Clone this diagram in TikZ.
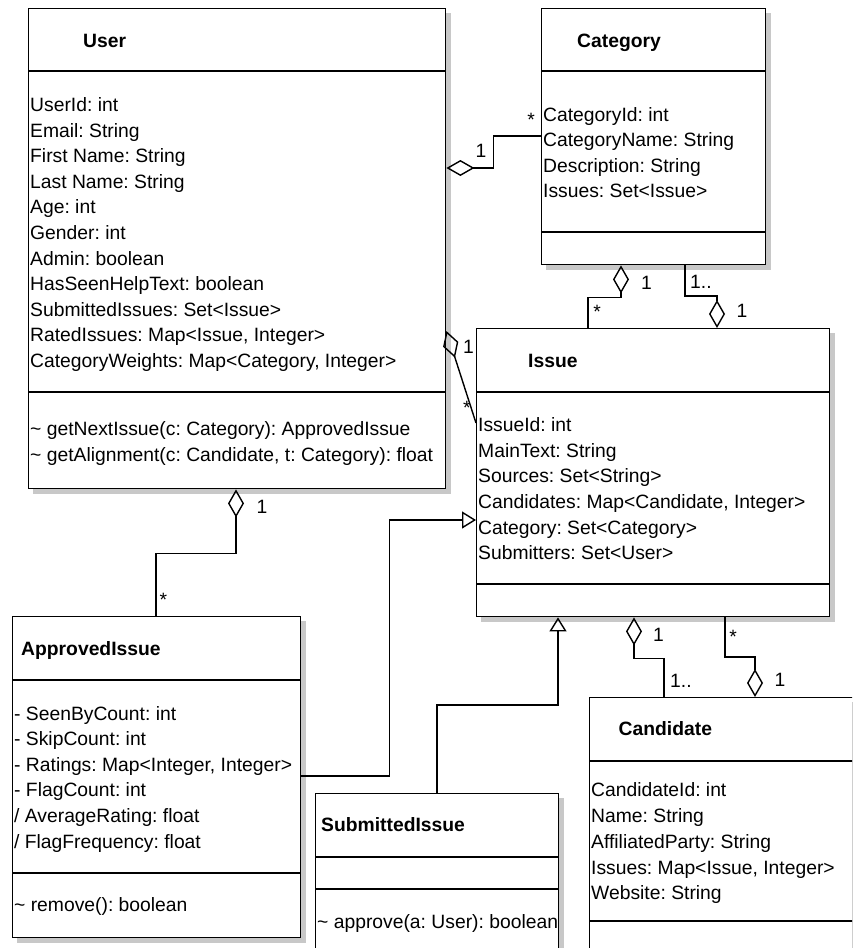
\documentclass[tikz,border=0pt]{standalone}
\usepackage{fontspec}
\setmainfont{Liberation Sans}
\usepackage{tikz}
\usetikzlibrary{arrows.meta,backgrounds}
\definecolor{ink}{HTML}{000000}
\definecolor{shade}{HTML}{C8C8C8}
\newcommand\umlfont{\fontsize{19.3}{23}\selectfont\frenchspacing}

\begin{document}
\begin{tikzpicture}[
  x=1pt,
  y=-1pt,
  classbox/.style={
    rectangle,anchor=north west,inner sep=0pt,draw=ink,fill=white,line width=1.4pt
  },
  boxshadow/.style={fill=shade},
  divider/.style={draw=ink,line width=1.4pt},
  classname/.style={anchor=base west,inner sep=0pt,text=ink,font=\umlfont\bfseries},
  member/.style={anchor=base west,inner sep=0pt,text=ink,font=\umlfont},
  mult/.style={anchor=base,inner sep=0pt,text=ink,font=\umlfont},
  assoc/.style={draw=ink,line width=1.4pt},
  aggr/.style={assoc,{Diamond[open,length=28pt,width=16pt]}-},
  generalize/.style={assoc,-{Triangle[open,length=14pt,width=17pt]}}
]
  \useasboundingbox (0,0) rectangle (852,948);
  \clip (0,0) rectangle (852,948);

  % User
  \node[classbox,minimum width=417pt,minimum height=480pt] (user) at (28,8) {};
  \draw[divider] ([yshift=-63pt]user.north west) -- ([yshift=-63pt]user.north east);
  \draw[divider] ([yshift=-384pt]user.north west) -- ([yshift=-384pt]user.north east);
  \node[classname] (user-name) at (83,47) {User};
  \foreach \txt [count=\i from 0] in {UserId: int, Email: String, First Name: String,
      Last Name: String, Age: int, Gender: int, Admin: boolean, HasSeenHelpText: boolean,
      SubmittedIssues: Set<Issue>, {RatedIssues: Map<Issue, Integer>},
      {CategoryWeights: Map<Category, Integer>}}
    \node[member] (user-a\i) at (30,111.5+25.6*\i) {\txt};
  \node[member] (user-m0) at (30,435) {\textasciitilde{} getNextIssue(c: Category): ApprovedIssue};
  \node[member] (user-m1) at (30,461) {\textasciitilde{} getAlignment(c: Candidate, t: Category): float};

  % Category
  \node[classbox,minimum width=224pt,minimum height=256pt] (category) at (541,8) {};
  \draw[divider] ([yshift=-63pt]category.north west) -- ([yshift=-63pt]category.north east);
  \draw[divider] ([yshift=-224pt]category.north west) -- ([yshift=-224pt]category.north east);
  \node[classname] (category-name) at (577,47) {Category};
  \foreach \txt [count=\i from 0] in {CategoryId: int, CategoryName: String,
      Description: String, Issues: Set<Issue>}
    \node[member] (category-a\i) at (543,121+25.6*\i) {\txt};

  % Issue
  \node[classbox,minimum width=353pt,minimum height=288pt] (issue) at (476,328) {};
  \draw[divider] ([yshift=-64pt]issue.north west) -- ([yshift=-64pt]issue.north east);
  \draw[divider] ([yshift=-256pt]issue.north west) -- ([yshift=-256pt]issue.north east);
  \node[classname] (issue-name) at (528,367.7) {Issue};
  \foreach \txt [count=\i from 0] in {IssueId: int, MainText: String, Sources: Set<String>,
      {Candidates: Map<Candidate, Integer>}, Category: Set<Category>, Submitters: Set<User>}
    \node[member] (issue-a\i) at (478,431.7+25.6*\i) {\txt};

  % ApprovedIssue
  \node[classbox,minimum width=288pt,minimum height=321pt] (approved) at (12,616) {};
  \draw[divider] ([yshift=-64pt]approved.north west) -- ([yshift=-64pt]approved.north east);
  \draw[divider] ([yshift=-257pt]approved.north west) -- ([yshift=-257pt]approved.north east);
  \node[classname] (approved-name) at (21,655) {ApprovedIssue};
  \foreach \txt [count=\i from 0] in {- SeenByCount: int, - SkipCount: int,
      {- Ratings: Map<Integer, Integer>}, - FlagCount: int, / AverageRating: float,
      / FlagFrequency: float}
    \node[member] (approved-a\i) at (14,720+25.6*\i) {\txt};
  \node[member] (approved-m0) at (14,911.7) {\textasciitilde{} remove(): boolean};

  % SubmittedIssue
  \node[classbox,minimum width=243pt,minimum height=160pt] (submitted) at (315,793) {};
  \draw[divider] ([yshift=-64pt]submitted.north west) -- ([yshift=-64pt]submitted.north east);
  \draw[divider] ([yshift=-96pt]submitted.north west) -- ([yshift=-96pt]submitted.north east);
  \node[classname] (submitted-name) at (321,831.7) {SubmittedIssue};
  \node[member] (submitted-m0) at (317,928) {\textasciitilde{} approve(a: User): boolean};

  % Candidate
  \node[classbox,minimum width=290pt,minimum height=256pt] (candidate) at (589,697) {};
  \draw[divider] ([yshift=-64pt]candidate.north west) -- ([yshift=-64pt]candidate.north east);
  \draw[divider] ([yshift=-224pt]candidate.north west) -- ([yshift=-224pt]candidate.north east);
  \node[classname] (candidate-name) at (618.5,735) {Candidate};
  \foreach \txt [count=\i from 0] in {CandidateId: int, Name: String, AffiliatedParty: String,
      {Issues: Map<Issue, Integer>}, Website: String}
    \node[member] (candidate-a\i) at (591,796.7+25.8*\i) {\txt};

  % Shadows
  \begin{scope}[on background layer]
    \foreach \cls in {user,category,issue,approved,submitted,candidate}
      \fill[boxshadow] ([shift={(5pt,-5pt)}]\cls.north west) rectangle ([shift={(5pt,-5pt)}]\cls.south east);
  \end{scope}

  % Associations
  \draw[aggr] ([yshift=-160pt]user.north east) -- ++(47,0) |- ([yshift=-128pt]category.north west);
  \draw[aggr] ([xshift=80pt]category.south west) -- ++(0,32) -| ([xshift=112pt]issue.north west);
  \draw[aggr] ([xshift=241pt]issue.north west) -- ++(0,-32) -| ([xshift=144pt]category.south west);
  \draw[aggr] ([yshift=-323pt]user.north east) -- ([yshift=-95pt]issue.north west);
  \draw[aggr] ([xshift=208pt]user.south west) -- ++(0,64) -| ([xshift=144pt]approved.north west);
  \draw[aggr] ([xshift=158pt]issue.south west) -- ++(0,41) -| ([xshift=75pt]candidate.north west);
  \draw[aggr] ([xshift=166pt]candidate.north west) -- ++(0,-40) -| ([xshift=249pt]issue.south west);
  \draw[generalize] ([yshift=-160pt]approved.north east) -- ++(88,0) |- ([yshift=-192pt]issue.north west);
  \draw[generalize] ([xshift=122pt]submitted.north west) -- ++(0,-88) -| ([xshift=82pt]issue.south west);

  % Multiplicities
  \node[mult] (uc-one) at (481,157) {1};
  \node[mult] (uc-many) at (531,126) {*};
  \node[mult] (ci-one) at (646.5,289) {1};
  \node[mult] (ci-many) at (597,318) {*};
  \node[mult,anchor=base west] (ic-some) at (690,288.5) {1..};
  \node[mult] (ic-one) at (742,317) {1};
  \node[mult] (ui-one) at (468.5,353) {1};
  \node[mult] (ui-many) at (467,414) {*};
  \node[mult] (ua-one) at (262,513) {1};
  \node[mult] (ua-many) at (163.5,606) {*};
  \node[mult] (icand-one) at (658.5,641.5) {1};
  \node[mult,anchor=base west] (icand-some) at (670,687) {1..};
  \node[mult] (cand-many) at (733,643) {*};
  \node[mult] (cand-one) at (780,686.5) {1};
\end{tikzpicture}
\end{document}
